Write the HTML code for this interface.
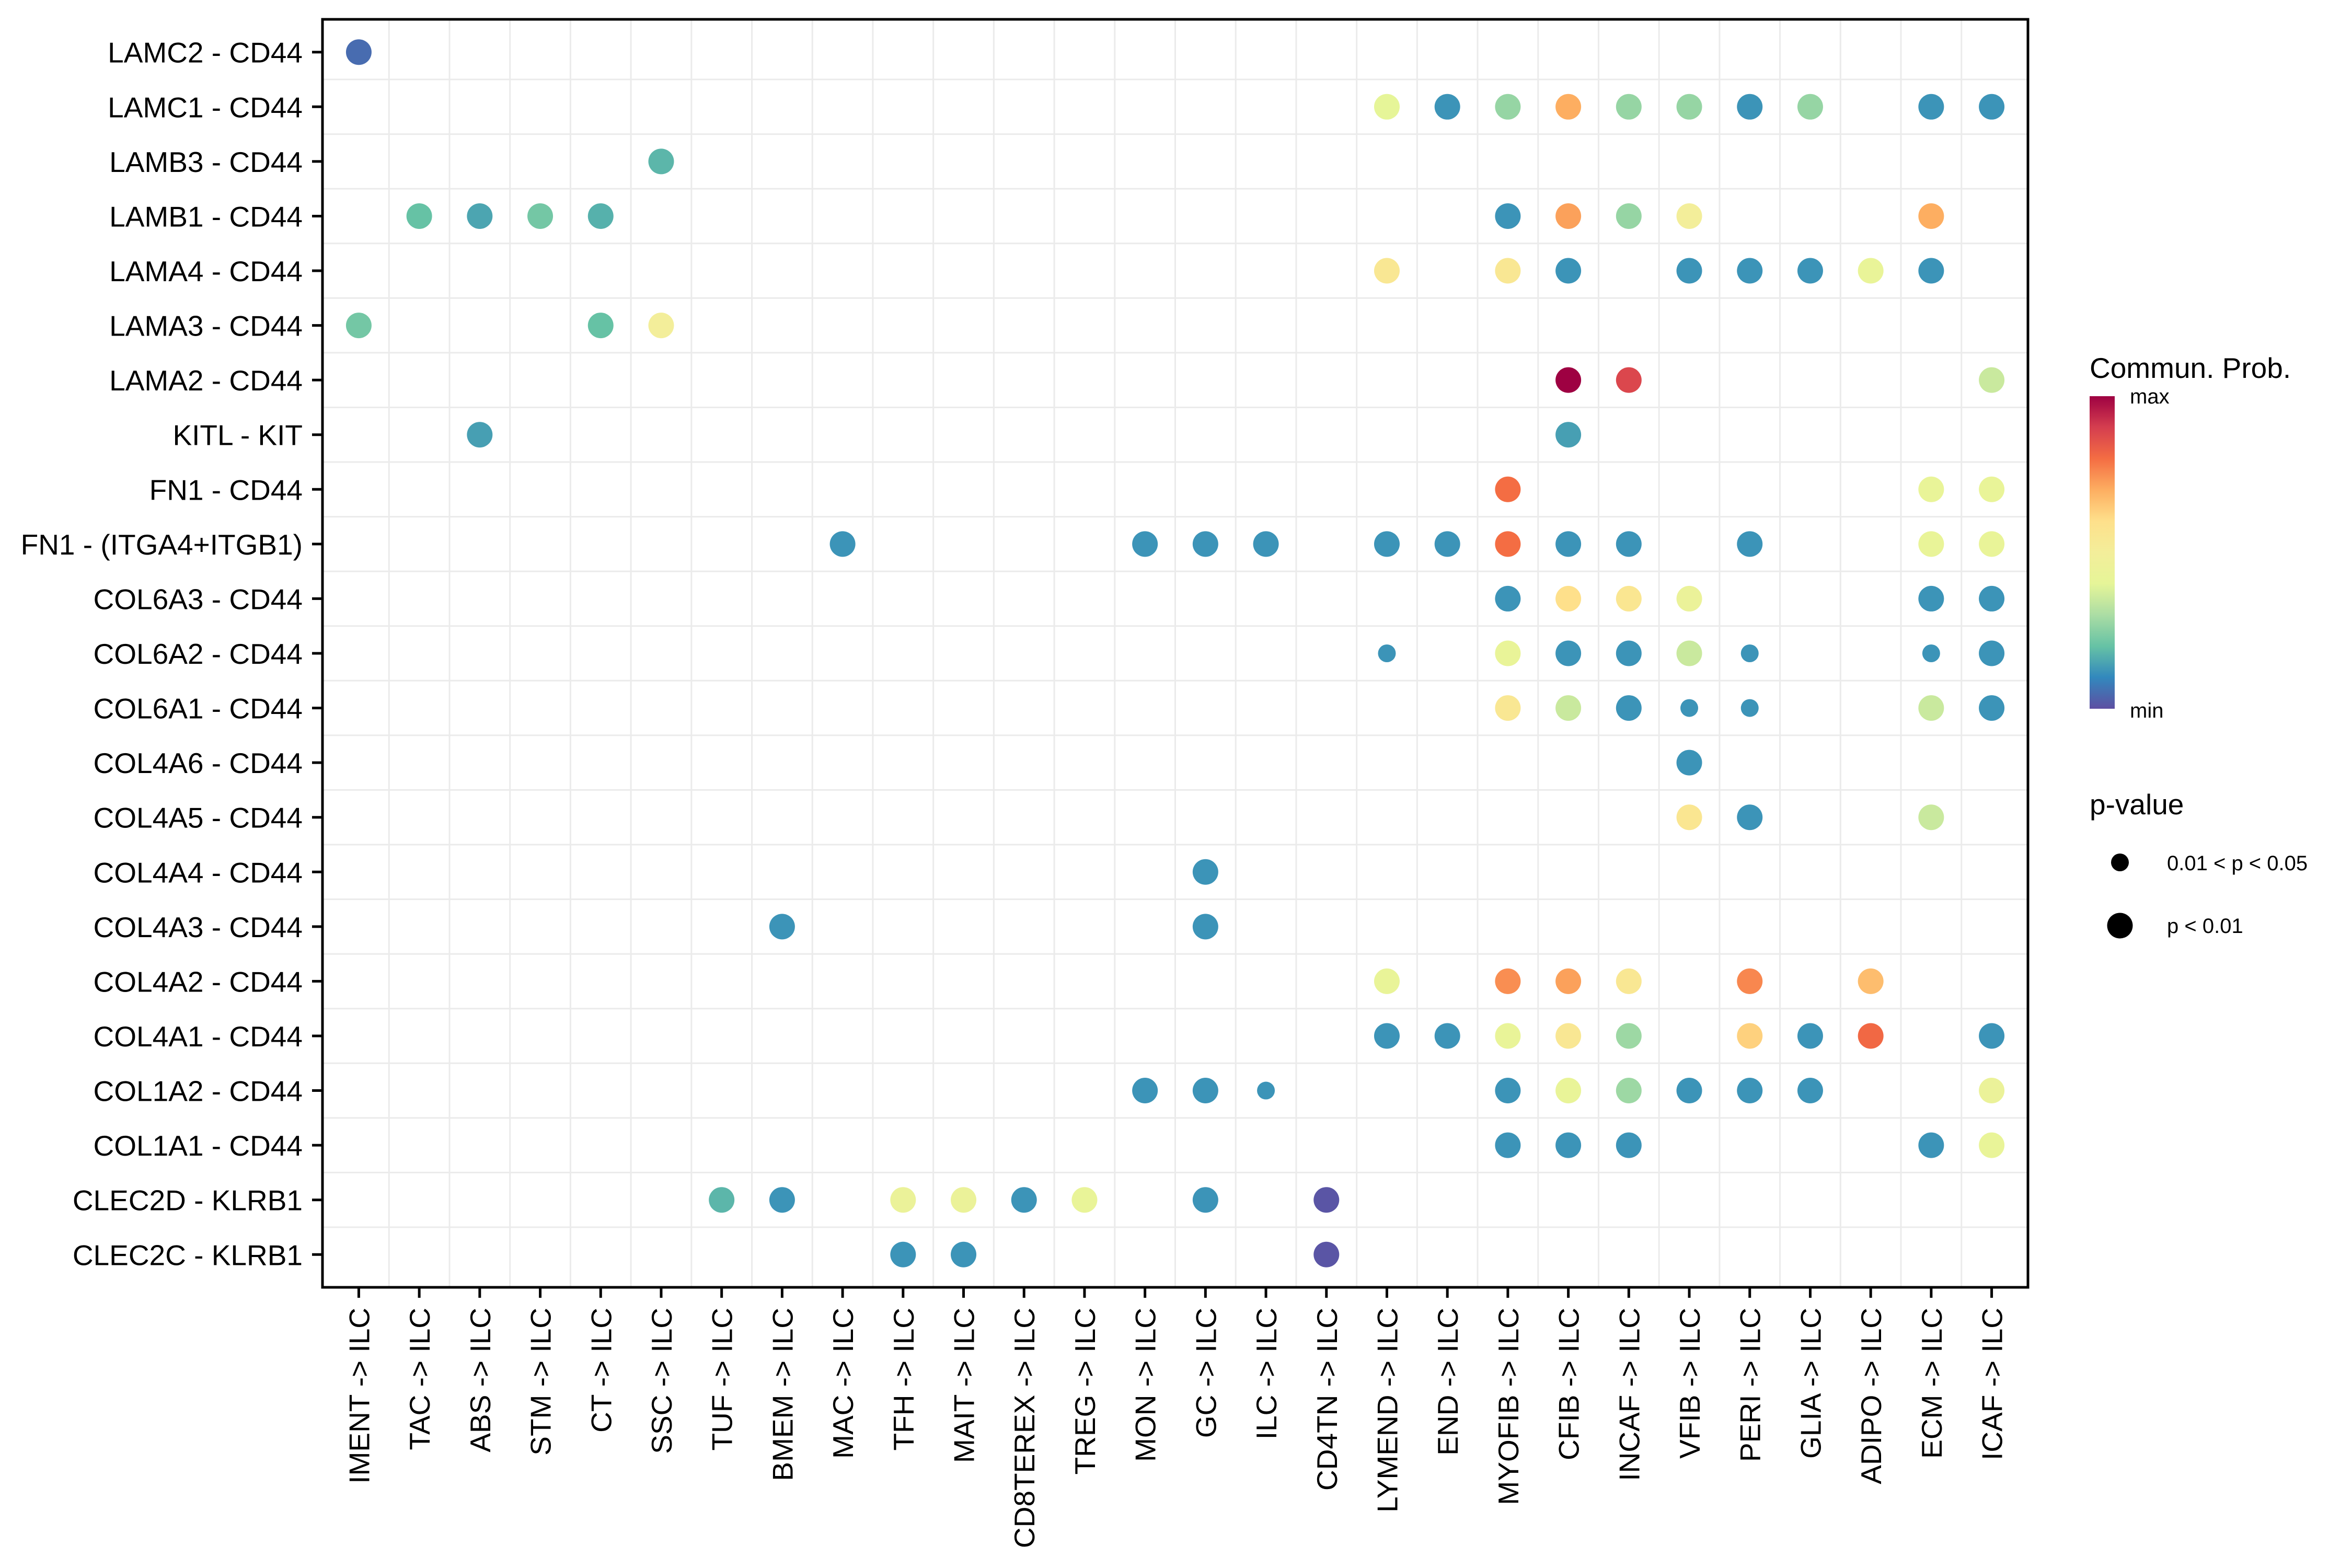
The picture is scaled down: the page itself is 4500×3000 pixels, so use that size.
<!DOCTYPE html>
<html><head><meta charset="utf-8"><style>
html,body{margin:0;padding:0;background:#fff;}
svg{display:block;font-family:"Liberation Sans",sans-serif;}
</style></head><body>
<svg id="chart" width="4500" height="3000" viewBox="0 0 4500 3000" xmlns="http://www.w3.org/2000/svg">
<defs><linearGradient id="spec" x1="0" y1="1" x2="0" y2="0">
<stop offset="0" stop-color="#5E4FA2"/><stop offset="0.1" stop-color="#3288BD"/><stop offset="0.2" stop-color="#66C2A5"/><stop offset="0.3" stop-color="#ABDDA4"/><stop offset="0.4" stop-color="#E6F598"/><stop offset="0.5" stop-color="#F3EE9A"/><stop offset="0.6" stop-color="#FEE08B"/><stop offset="0.7" stop-color="#FDAE61"/><stop offset="0.8" stop-color="#F46D43"/><stop offset="0.9" stop-color="#D53E4F"/><stop offset="1" stop-color="#9E0142"/>
</linearGradient></defs>
<g id="grid"></g>
<g id="points"></g>
<rect x="617" y="37" width="3263" height="2426" fill="none" stroke="#000" stroke-width="5"/>
<g id="yaxis"></g>
<g id="xaxis"></g>
<g>
<text x="3998" y="723" font-size="55">Commun. Prob.</text>
<rect x="3998" y="758" width="48" height="598" fill="url(#spec)"/>
<text x="4075" y="772" font-size="40">max</text>
<text x="4075" y="1373" font-size="40">min</text>
</g>
<g>
<text x="3998" y="1558" font-size="55">p-value</text>
<circle cx="4056" cy="1650" r="17" fill="#000"/>
<text x="4146" y="1665" font-size="40">0.01 &lt; p &lt; 0.05</text>
<circle cx="4056" cy="1771" r="24.5" fill="#000"/>
<text x="4146" y="1785" font-size="40">p &lt; 0.01</text>
</g>
</svg>
<script>
const rows = ["LAMC2 - CD44","LAMC1 - CD44","LAMB3 - CD44","LAMB1 - CD44","LAMA4 - CD44","LAMA3 - CD44","LAMA2 - CD44","KITL - KIT","FN1 - CD44","FN1 - (ITGA4+ITGB1)","COL6A3 - CD44","COL6A2 - CD44","COL6A1 - CD44","COL4A6 - CD44","COL4A5 - CD44","COL4A4 - CD44","COL4A3 - CD44","COL4A2 - CD44","COL4A1 - CD44","COL1A2 - CD44","COL1A1 - CD44","CLEC2D - KLRB1","CLEC2C - KLRB1"];
const cols = ["IMENT","TAC","ABS","STM","CT","SSC","TUF","BMEM","MAC","TFH","MAIT","CD8TEREX","TREG","MON","GC","ILC","CD4TN","LYMEND","END","MYOFIB","CFIB","INCAF","VFIB","PERI","GLIA","ADIPO","ECM","ICAF"];
const ptRow = [0, 1,1,1,1,1,1,1,1,1,1, 2, 3,3,3,3,3,3,3,3,3, 4,4,4,4,4,4,4,4, 5,5,5, 6,6,6, 7,7, 8,8,8, 9,9,9,9,9,9,9,9,9,9,9,9, 10,10,10,10,10,10, 11,11,11,11,11,11,11,11, 12,12,12,12,12,12,12, 13, 14,14,14, 15, 16,16, 17,17,17,17,17,17, 18,18,18,18,18,18,18,18,18, 19,19,19,19,19,19,19,19,19,19, 20,20,20,20,20, 21,21,21,21,21,21,21,21, 22,22,22];
const ptCol = [0, 17,18,19,20,21,22,23,24,26,27, 5, 1,2,3,4,19,20,21,22,26, 17,19,20,22,23,24,25,26, 0,4,5, 20,21,27, 2,20, 19,26,27, 8,13,14,15,17,18,19,20,21,23,26,27, 19,20,21,22,26,27, 17,19,20,21,22,23,26,27, 19,20,21,22,23,26,27, 22, 22,23,26, 14, 7,14, 17,19,20,21,23,25, 17,18,19,20,21,23,24,25,27, 13,14,15,19,20,21,22,23,24,27, 19,20,21,26,27, 6,7,9,10,11,12,14,16, 9,10,16];
const ptValue = [0.05, 0.40,0.12,0.27,0.70,0.27,0.27,0.12,0.27,0.12,0.12, 0.18, 0.20,0.15,0.22,0.17,0.12,0.72,0.27,0.50,0.70, 0.55,0.55,0.12,0.12,0.12,0.12,0.42,0.12, 0.22,0.20,0.50, 1.00,0.88,0.35, 0.14,0.14, 0.80,0.42,0.42, 0.12,0.12,0.12,0.12,0.12,0.12,0.80,0.12,0.12,0.12,0.42,0.42, 0.12,0.60,0.56,0.44,0.12,0.12, 0.12,0.42,0.12,0.12,0.35,0.12,0.12,0.12, 0.55,0.35,0.12,0.12,0.12,0.35,0.12, 0.12, 0.56,0.12,0.35, 0.12, 0.12,0.12, 0.42,0.75,0.72,0.55,0.76,0.67, 0.12,0.12,0.42,0.55,0.28,0.63,0.12,0.81,0.12, 0.12,0.12,0.12,0.12,0.42,0.28,0.12,0.12,0.12,0.44, 0.12,0.12,0.12,0.12,0.42, 0.18,0.12,0.44,0.44,0.12,0.42,0.12,0.01, 0.12,0.12,0.01];
const ptSig = [1, 1,1,1,1,1,1,1,1,1,1, 1, 1,1,1,1,1,1,1,1,1, 1,1,1,1,1,1,1,1, 1,1,1, 1,1,1, 1,1, 1,1,1, 1,1,1,1,1,1,1,1,1,1,1,1, 1,1,1,1,1,1, 0,1,1,1,1,0,0,1, 1,1,1,0,0,1,1, 1, 1,1,1, 1, 1,1, 1,1,1,1,1,1, 1,1,1,1,1,1,1,1,1, 1,1,0,1,1,1,1,1,1,1, 1,1,1,1,1, 1,1,1,1,1,1,1,1, 1,1,1];

const NS = "http://www.w3.org/2000/svg";
const L = 617, R = 3880, T = 37, B = 2463;
const cw = (R - L) / (cols.length - 1 + 1.2), rh = (B - T) / (rows.length - 1 + 1.2);
function xPos(i){ return L + (0.6 + i) * cw; }
function yPos(j){ return T + (0.6 + j) * rh; }
const stops = ["#5E4FA2","#3288BD","#66C2A5","#ABDDA4","#E6F598","#F3EE9A","#FEE08B","#FDAE61","#F46D43","#D53E4F","#9E0142"];
function hex(h){ return [1,3,5].map(k => parseInt(h.substr(k,2),16)); }
function colorOf(v){
  v = Math.max(0, Math.min(1, v)) * 10;
  const i = Math.min(9, Math.floor(v)), f = v - i;
  const a = hex(stops[i]), b = hex(stops[i+1]);
  return "rgb(" + a.map((c,k) => Math.round(c + (b[k]-c)*f)).join(",") + ")";
}
function mk(tag, attrs, parent){
  const e = document.createElementNS(NS, tag);
  for (const k in attrs) e.setAttribute(k, attrs[k]);
  parent.appendChild(e); return e;
}
const grid = document.getElementById("grid");
for (let i = 0; i < cols.length - 1; i++) {
  const x = (xPos(i) + xPos(i+1)) / 2;
  const g = mk("line", {x1:x, x2:x, y1:T, y2:B, stroke:"#ebebeb", "stroke-width":3}, grid);
  
  
}
for (let j = 0; j < rows.length - 1; j++) {
  const y = (yPos(j) + yPos(j+1)) / 2;
  const g = mk("line", {x1:L, x2:R, y1:y, y2:y, stroke:"#ebebeb", "stroke-width":3}, grid);
  
  
}
const ya = document.getElementById("yaxis");
rows.forEach((r, j) => {
  const y = yPos(j);
  const t = mk("line", {x1:597, x2:L, y1:y, y2:y, stroke:"#000", "stroke-width":5}, ya);
  
  
  const tx = mk("text", {x:579, y:y + 20, "font-size":55, "text-anchor":"end"}, ya);
  tx.textContent = r;
  
  
});
const xa = document.getElementById("xaxis");
cols.forEach((c, i) => {
  const x = xPos(i);
  const t = mk("line", {x1:x, x2:x, y1:B, y2:B + 20, stroke:"#000", "stroke-width":5}, xa);
  
  
  const tx = mk("text", {x:0, y:0, "font-size":55, "text-anchor":"end", transform:"translate(" + (x + 20) + ",2502) rotate(-90)"}, xa);
  tx.textContent = c + " -> ILC";
  
  
});
const pts = document.getElementById("points");
ptRow.forEach((rj, k) => {
  const c = mk("circle", {cx:xPos(ptCol[k]), cy:yPos(rj), r: ptSig[k] ? 24.5 : 17, fill: colorOf(ptValue[k])}, pts);
  
  
});
</script>
</body></html>
